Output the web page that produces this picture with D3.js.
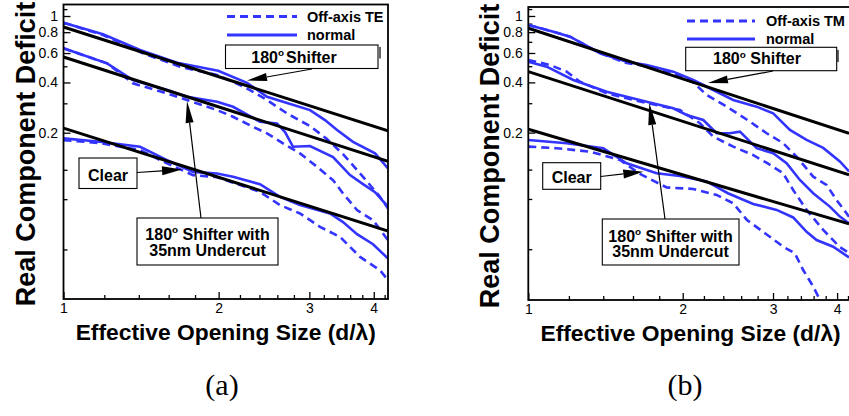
<!DOCTYPE html>
<html>
<head>
<meta charset="utf-8">
<script src="https://cdn.jsdelivr.net/npm/d3@7"></script>
<style>
  body { margin: 0; background: #fff; }
  svg { display: block; }
</style>
</head>
<body>
<svg id="chart" width="849" height="416"></svg>
<script>
// ---- data: [d/lambda, real component deficit] ----
// panel (a): off-axis TE vs normal incidence
const leftShifterNormal = [[1.0,0.912],[1.193,0.777],[1.408,0.626],[1.661,0.525],[1.995,0.470],[2.271,0.398],[2.483,0.328],[2.667,0.3065],[3.009,0.2733],[3.217,0.2381],[3.395,0.2074],[3.646,0.1765],[4.023,0.1504],[4.263,0.1223]];
const leftShifterTE = [[1.0,0.912],[1.193,0.770],[1.427,0.598],[1.683,0.497],[1.986,0.443],[2.133,0.404],[2.301,0.360],[2.483,0.3138],[2.715,0.261],[3.009,0.2192],[3.246,0.1832],[3.487,0.149],[3.813,0.1089],[4.114,0.0826],[4.263,0.0704]];
const leftUndercutNormal = [[1.0,0.6405],[1.091,0.584],[1.215,0.5207],[1.364,0.4135],[1.588,0.3602],[1.737,0.3285],[1.986,0.3065],[2.133,0.2862],[2.406,0.2326],[2.596,0.2275],[2.691,0.2018],[2.789,0.1648],[3.009,0.1664],[3.335,0.1429],[3.598,0.1115],[3.813,0.0984],[4.023,0.0881],[4.263,0.072]];
const leftUndercutTE = [[1.0,0.6405],[1.215,0.5207],[1.364,0.3951],[1.588,0.3442],[1.737,0.3138],[1.986,0.2733],[2.133,0.2492],[2.332,0.2171],[2.483,0.1982],[2.667,0.1727],[2.877,0.1504],[3.105,0.125],[3.335,0.104],[3.487,0.0866],[3.712,0.0688],[3.987,0.0599],[4.263,0.0454]];
const leftClearNormal = [[1.0,0.185],[1.177,0.1765],[1.408,0.1648],[1.588,0.1371],[1.784,0.1166],[1.986,0.1141],[2.133,0.1089],[2.406,0.0984],[2.631,0.0826],[2.877,0.0737],[3.290,0.0657],[3.487,0.0583],[3.712,0.0494],[3.987,0.043],[4.263,0.0353]];
const leftClearTE = [[1.0,0.1807],[1.177,0.1734],[1.408,0.1574],[1.588,0.131],[1.784,0.1115],[1.986,0.1084],[2.406,0.0885],[2.631,0.0737],[2.877,0.0657],[3.146,0.0546],[3.440,0.0476],[3.762,0.0361],[4.114,0.030],[4.263,0.0262]];
const leftFitShifter = [[1,0.86],[4.263,0.205]];
const leftFitUndercut = [[1,0.568],[4.263,0.135]];
const leftFitClear = [[1,0.213],[4.263,0.0516]];

// panel (b): off-axis TM vs normal incidence
const rightShifterNormal = [[1.0,0.8834],[1.119,0.8054],[1.206,0.7518],[1.380,0.5978],[1.555,0.5323],[1.701,0.5087],[1.917,0.4637],[2.097,0.4135],[2.294,0.3602],[2.509,0.3138],[2.787,0.2862],[3.002,0.2612],[3.236,0.2074],[3.488,0.1807],[3.758,0.1618],[4.050,0.1343],[4.22,0.117]];
const rightShifterTM = [[1.0,0.8834],[1.119,0.8054],[1.206,0.7518],[1.380,0.5978],[1.555,0.522],[1.701,0.500],[1.917,0.455],[2.097,0.400],[2.227,0.3363],[2.436,0.2862],[2.705,0.2326],[2.915,0.1982],[3.136,0.1734],[3.335,0.1435],[3.593,0.1089],[3.815,0.0971],[3.990,0.0789],[4.22,0.0627]];
const rightUndercutNormal = [[1.0,0.5323],[1.086,0.4969],[1.224,0.4135],[1.422,0.3519],[1.555,0.3285],[1.701,0.3066],[1.917,0.2799],[2.036,0.2551],[2.193,0.2381],[2.329,0.1982],[2.472,0.1982],[2.586,0.2026],[2.787,0.1612],[3.002,0.1504],[3.188,0.131],[3.385,0.104],[3.593,0.0866],[3.872,0.072],[4.050,0.0627],[4.22,0.0572]];
const rightUndercutTM = [[1.0,0.5449],[1.102,0.5087],[1.188,0.4637],[1.261,0.4039],[1.422,0.3442],[1.555,0.3213],[1.701,0.3011],[1.975,0.2733],[2.161,0.2275],[2.294,0.1891],[2.509,0.1648],[2.741,0.1469],[2.919,0.1316],[3.136,0.1146],[3.284,0.0906],[3.488,0.0688],[3.758,0.0522],[4.050,0.0412],[4.22,0.038]];
const rightClearNormal = [[1.0,0.1807],[1.188,0.1727],[1.400,0.1612],[1.555,0.131],[1.779,0.1141],[1.975,0.1099],[2.227,0.1019],[2.450,0.0866],[2.745,0.0747],[3.049,0.0688],[3.284,0.062],[3.488,0.0508],[3.648,0.0454],[3.930,0.0414],[4.22,0.0357]];
const rightClearTM = [[1.0,0.1648],[1.136,0.1612],[1.319,0.1538],[1.509,0.1371],[1.651,0.113],[1.861,0.0938],[2.097,0.0919],[2.329,0.0846],[2.509,0.0754],[2.668,0.0599],[2.893,0.0499],[3.140,0.0414],[3.309,0.0378],[3.435,0.030],[3.593,0.0239],[3.703,0.0199],[3.730,0.0178]];
const rightFitShifter = [[1,0.844],[4.22,0.198]];
const rightFitUndercut = [[1,0.464],[4.22,0.1115]];
const rightFitClear = [[1,0.2095],[4.22,0.0567]];

// ---- axes ----
const xMajorTicks = [1, 2, 3, 4];
const xMinorTicks = [1.2, 1.4, 1.6, 1.8, 2.2, 2.4, 2.6, 2.8, 3.2, 3.4, 3.6, 3.8, 4.2];
const yMajorTicks = [1, 0.8, 0.6, 0.4, 0.2];
const yTickLabels = ["1", "0.8", "0.6", "0.4", "0.2"];
const yMinorTicks = [1.1, 0.9, 0.7, 0.5, 0.3, 0.12, 0.08, 0.04];
const leftXDomain = [1, 4.263];
const leftYDomain = [0.0202, 1.172];
const rightXDomain = [1, 4.292];
const rightYDomain = [0.01984, 1.132];

const xTitle = "Effective Opening Size (d/\u03bb)";
const yTitle = "Real Component Deficit";

const BLUE = "#3434ff";
const SANS = "'Liberation Sans', Arial, Helvetica, sans-serif";

const svg = d3.select("#chart");
svg.append("rect").attr("width", 849).attr("height", 416).attr("fill", "#fff");

const defs = svg.append("defs");

function degreeLabel(textSel, before, after, gap) {
  textSel.append("tspan").text(before);
  textSel.append("tspan").attr("dy", -6.5).attr("font-size", "0.62em").text("o");
  textSel.append("tspan").attr("dy", 6.5).attr("dx", gap).text(after);
}

function arrow(g, from, to, headLen, headHalf) {
  const dx = to[0] - from[0], dy = to[1] - from[1];
  const L = Math.hypot(dx, dy), ux = dx / L, uy = dy / L;
  const bx = to[0] - ux * headLen, by = to[1] - uy * headLen;
  g.append("line").attr("x1", from[0]).attr("y1", from[1]).attr("x2", bx).attr("y2", by)
    .attr("stroke", "#000").attr("stroke-width", 1.2);
  g.append("path")
    .attr("d", `M${to[0]},${to[1]}L${bx - uy * headHalf},${by + ux * headHalf}L${bx + uy * headHalf},${by - ux * headHalf}Z`)
    .attr("fill", "#000");
}

function box(g, x0, y0, x1, y1) {
  g.append("rect").attr("x", x0).attr("y", y0).attr("width", x1 - x0).attr("height", y1 - y0)
    .attr("fill", "#fff").attr("stroke", "#000").attr("stroke-width", 1.1);
}

function drawPanel(cfg) {
  const x = d3.scaleLog().domain(cfg.xDomain).range([cfg.left, cfg.right]);
  const y = d3.scaleLog().domain(cfg.yDomain).range([cfg.bottom, cfg.top]);
  const g = svg.append("g");

  const clipId = "clip-" + cfg.id;
  defs.append("clipPath").attr("id", clipId).append("rect")
    .attr("x", cfg.left).attr("y", cfg.top)
    .attr("width", cfg.right - cfg.left).attr("height", cfg.bottom - cfg.top);

  // ticks (pointing inward)
  const xMaj = d3.axisBottom(x).tickValues(xMajorTicks).tickFormat(d3.format("d"))
    .tickSizeInner(-7).tickSizeOuter(0).tickPadding(4.5);
  const xMin = d3.axisBottom(x).tickValues(xMinorTicks).tickFormat("")
    .tickSizeInner(-4).tickSizeOuter(0);
  const yMaj = d3.axisLeft(y).tickValues(yMajorTicks).tickFormat((d, i) => yTickLabels[i])
    .tickSizeInner(-7).tickSizeOuter(0).tickPadding(5.5);
  const yMin = d3.axisLeft(y).tickValues(yMinorTicks).tickFormat("")
    .tickSizeInner(-4).tickSizeOuter(0);

  [[xMaj, "x"], [xMin, "x"], [yMaj, "y"], [yMin, "y"]].forEach(([ax, kind]) => {
    const a = g.append("g")
      .attr("transform", kind === "x" ? `translate(0,${cfg.bottom})` : `translate(${cfg.left},0)`)
      .call(ax);
    a.select(".domain").remove();
    a.selectAll(".tick line").attr("stroke", "#000").attr("stroke-width", 1.3);
    a.selectAll("text").attr("font-family", SANS).attr("font-size", 14).attr("fill", "#000");
  });

  const line = d3.line().x(d => x(d[0])).y(d => y(d[1]));
  const curves = g.append("g").attr("clip-path", `url(#${clipId})`).attr("fill", "none");

  cfg.dashed.forEach(s => curves.append("path").attr("d", line(s))
    .attr("stroke", BLUE).attr("stroke-width", 2.6).attr("stroke-dasharray", "8,5"));
  cfg.solid.forEach(s => curves.append("path").attr("d", line(s))
    .attr("stroke", BLUE).attr("stroke-width", 2.6));
  cfg.fits.forEach(s => curves.append("path").attr("d", line(s))
    .attr("stroke", "#000").attr("stroke-width", 3));

  // frame
  g.append("rect").attr("x", cfg.left).attr("y", cfg.top)
    .attr("width", cfg.right - cfg.left).attr("height", cfg.bottom - cfg.top)
    .attr("fill", "none").attr("stroke", "#000").attr("stroke-width", 1.8);

  // legend
  const lg = cfg.legend;
  g.append("line").attr("x1", lg.x0).attr("x2", lg.x1).attr("y1", lg.y0).attr("y2", lg.y0)
    .attr("stroke", BLUE).attr("stroke-width", 2.8).attr("stroke-dasharray", "8,5");
  g.append("line").attr("x1", lg.x0).attr("x2", lg.x1).attr("y1", lg.y1).attr("y2", lg.y1)
    .attr("stroke", BLUE).attr("stroke-width", 2.8);
  g.append("text").attr("x", lg.tx).attr("y", lg.y0 + 5).attr("font-family", SANS)
    .attr("font-weight", "bold").attr("font-size", 14.5).text(cfg.offLabel);
  g.append("text").attr("x", lg.tx).attr("y", lg.y1 + 5).attr("font-family", SANS)
    .attr("font-weight", "bold").attr("font-size", 14.5).text("normal");

  // annotations
  const ann = g.append("g").attr("font-family", SANS).attr("font-weight", "bold").attr("font-size", 16);
  const a = cfg.ann;
  box(ann, ...a.shBox);
  ann.append("line").attr("x1", a.shMark[0]).attr("x2", a.shMark[0]).attr("y1", a.shMark[1]).attr("y2", a.shMark[2])
    .attr("stroke", "#000").attr("stroke-width", 1.2);
  degreeLabel(ann.append("text").attr("x", a.shText[0]).attr("y", a.shText[1]).attr("text-anchor", "middle"),
    "180", a.shAfter, a.shGap);
  arrow(ann, a.shArrow[0], a.shArrow[1], 20, 4);

  box(ann, ...a.clBox);
  ann.append("text").attr("x", a.clText[0]).attr("y", a.clText[1]).attr("text-anchor", "middle").text("Clear");
  arrow(ann, a.clArrow[0], a.clArrow[1], 20, 4.5);

  box(ann, ...a.ucBox);
  degreeLabel(ann.append("text").attr("x", a.ucText[0]).attr("y", a.ucText[1]).attr("text-anchor", "middle"),
    "180", " Shifter with", 0);
  ann.append("text").attr("x", a.ucText[0]).attr("y", a.ucText[2]).attr("text-anchor", "middle").text("35nm Undercut");
  arrow(ann, a.ucArrow[0], a.ucArrow[1], 22, 4);

  // axis titles
  g.append("text").attr("x", (cfg.left + cfg.right) / 2).attr("y", cfg.xTitleY)
    .attr("text-anchor", "middle").attr("font-family", SANS).attr("font-weight", "bold")
    .attr("font-size", 22.8).text(xTitle);
  g.append("text").attr("transform", `translate(${cfg.yTitleX},${cfg.yTitleMid}) rotate(-90)`)
    .attr("text-anchor", "middle").attr("font-family", SANS).attr("font-weight", "bold")
    .attr("font-size", 27).text(yTitle);

  // caption
  g.append("text").attr("x", cfg.capX).attr("y", 395).attr("text-anchor", "middle")
    .attr("font-family", "'Liberation Serif', 'DejaVu Serif', serif").attr("font-size", 30).text(cfg.caption);
}

drawPanel({
  id: "a", xDomain: leftXDomain, yDomain: leftYDomain,
  left: 63.5, right: 388, top: 4.5, bottom: 299,
  solid: [leftShifterNormal, leftUndercutNormal, leftClearNormal],
  dashed: [leftShifterTE, leftUndercutTE, leftClearTE],
  fits: [leftFitShifter, leftFitUndercut, leftFitClear],
  offLabel: "Off-axis TE",
  legend: { x0: 227, x1: 297, y0: 16.5, y1: 35, tx: 307 },
  ann: {
    shBox: [225.5, 45, 378, 68.5], shMark: [380, 47, 58.5], shText: [294, 62.5], shAfter: "Shifter", shGap: 2,
    shArrow: [[312, 69], [247, 80.5]],
    clBox: [79, 158, 137, 188.5], clText: [108, 180.5], clArrow: [[137, 172.5], [182, 169.5]],
    ucBox: [137, 218, 278, 265], ucText: [207.5, 239.5, 256], ucArrow: [[201, 218], [187, 101]]
  },
  xTitleY: 340, yTitleX: 34.5, yTitleMid: 154, capX: 222, caption: "(a)"
});

drawPanel({
  id: "b", xDomain: rightXDomain, yDomain: rightYDomain,
  left: 528.3, right: 852.8, top: 7, bottom: 300,
  solid: [rightShifterNormal, rightUndercutNormal, rightClearNormal],
  dashed: [rightShifterTM, rightUndercutTM, rightClearTM],
  fits: [rightFitShifter, rightFitUndercut, rightFitClear],
  offLabel: "Off-axis TM",
  legend: { x0: 687, x1: 755, y0: 21, y1: 39, tx: 766 },
  ann: {
    shBox: [685.7, 47.3, 836.7, 70.7], shMark: [838, 50, 62], shText: [757, 64], shAfter: " Shifter", shGap: 0,
    shArrow: [[773, 71], [708, 83]],
    clBox: [542.7, 162.7, 600.7, 189.3], clText: [571.7, 182.5], clArrow: [[600.7, 176.5], [643.3, 171.7]],
    ucBox: [602.3, 219, 739, 265], ucText: [670.5, 241.5, 257], ucArrow: [[665, 219], [649.3, 103]]
  },
  xTitleY: 341, yTitleX: 498.5, yTitleMid: 156, capX: 685, caption: "(b)"
});
</script>
</body>
</html>
